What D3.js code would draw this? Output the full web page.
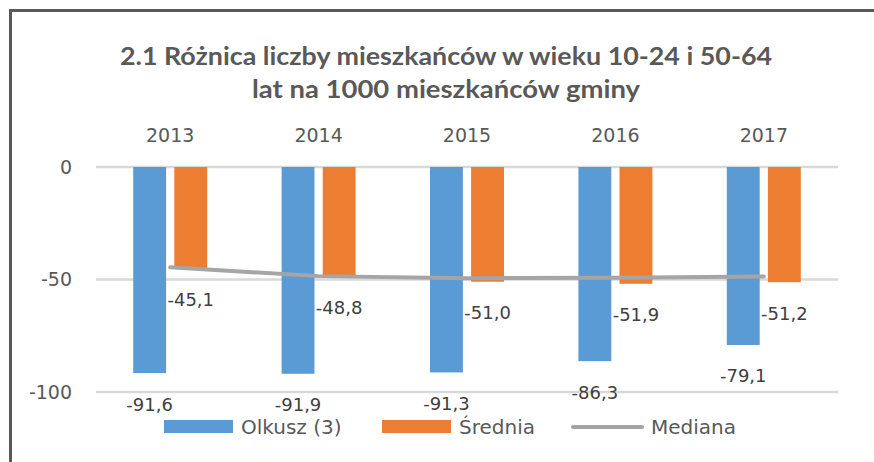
<!DOCTYPE html>
<html>
<head>
<meta charset="utf-8">
<script src="https://cdn.jsdelivr.net/npm/d3@7"></script>
<style>
  body { margin: 0; background: #fff; }
  svg { display: block; }
</style>
</head>
<body>
<div id="chart"></div>
<script>
// values
var years = ["2013", "2014", "2015", "2016", "2017"];
var olkusz = [-91.6, -91.9, -91.3, -86.3, -79.1];
var srednia = [-45.1, -48.8, -51.0, -51.9, -51.2];
var mediana = [-44.6, -48.5, -49.4, -49.2, -48.7];
var yTicks = [0, -50, -100];
var seriesNames = ["Olkusz (3)", "Średnia", "Mediana"];
var colors = ["#5B9BD5", "#ED7D31", "#A5A5A5"];

var width = 874, height = 462;
var textColor = "#595959";

var svg = d3.select("#chart").append("svg")
    .attr("width", width)
    .attr("height", height);

svg.append("rect")
    .attr("width", width).attr("height", height)
    .attr("fill", "#fff");

// chart frame, runs off the right and bottom edge
svg.append("rect")
    .attr("x", 10.5).attr("y", 10.5)
    .attr("width", width).attr("height", height)
    .attr("fill", "none")
    .attr("stroke", "#595959")
    .attr("stroke-width", 3);

// title
var title = svg.append("g")
    .attr("font-family", "Lato, 'Noto Sans', sans-serif")
    .attr("font-weight", 700)
    .attr("font-size", 24)
    .attr("fill", textColor)
    .attr("text-anchor", "middle");
title.append("text").attr("x", 446).attr("y", 65)
    .attr("textLength", 652).attr("lengthAdjust", "spacingAndGlyphs")
    .text("2.1 Różnica liczby mieszkańców w wieku 10-24 i 50-64");
title.append("text").attr("x", 446).attr("y", 98)
    .attr("textLength", 388).attr("lengthAdjust", "spacingAndGlyphs")
    .text("lat na 1000 mieszkańców gminy");

var plot = { left: 96, right: 838, top: 167, bottom: 392 };

var x0 = d3.scaleBand()
    .domain(years)
    .range([plot.left, plot.right]);

var x1 = d3.scaleBand()
    .domain(seriesNames.slice(0, 2))
    .range([0, 74])
    .paddingInner(0.2);

var groupOffset = (x0.bandwidth() - 74) / 2;

var y = d3.scaleLinear()
    .domain([-100, 0])
    .range([plot.bottom, plot.top]);

// gridlines
svg.append("g").selectAll("line")
    .data(yTicks)
    .enter().append("line")
    .attr("x1", plot.left).attr("x2", plot.right)
    .attr("y1", d => y(d)).attr("y2", d => y(d))
    .attr("stroke", "#D9D9D9")
    .attr("stroke-width", 2.5);

// y axis labels
var yAxis = svg.append("g")
    .attr("transform", "translate(" + plot.left + ",0)")
    .call(d3.axisLeft(y).tickValues(yTicks).tickSize(0).tickPadding(24)
        .tickFormat(d3.format("d")));
yAxis.select(".domain").remove();
yAxis.selectAll("text")
    .attr("font-family", "'DejaVu Sans', sans-serif")
    .attr("font-size", 19)
    .attr("fill", textColor)
    .text(d => d < 0 ? "-" + Math.abs(d) : d);

// year labels on top
var xAxis = svg.append("g")
    .attr("transform", "translate(0," + plot.top + ")")
    .call(d3.axisTop(x0).tickSize(0).tickPadding(25));
xAxis.select(".domain").remove();
xAxis.selectAll("text")
    .attr("font-family", "'DejaVu Sans', sans-serif")
    .attr("font-size", 19)
    .attr("fill", textColor);

var comma = function (v) { return d3.format(".1f")(v).replace(".", ",").replace("−", "-"); };

var barData = [];
years.forEach(function (yr, i) {
    barData.push({ year: yr, key: seriesNames[0], value: olkusz[i], color: colors[0] });
    barData.push({ year: yr, key: seriesNames[1], value: srednia[i], color: colors[1] });
});

svg.append("g").selectAll("rect")
    .data(barData)
    .enter().append("rect")
    .attr("x", d => x0(d.year) + groupOffset + x1(d.key))
    .attr("y", y(0))
    .attr("width", x1.bandwidth())
    .attr("height", d => y(d.value) - y(0))
    .attr("fill", d => d.color);

// median line
var line = d3.line()
    .x((d, i) => x0(years[i]) + x0.bandwidth() / 2)
    .y(d => y(d));

svg.append("path")
    .datum(mediana)
    .attr("d", line)
    .attr("fill", "none")
    .attr("stroke", colors[2])
    .attr("stroke-width", 4)
    .attr("stroke-linecap", "round");

// data labels under the bar ends
svg.append("g").selectAll("text")
    .data(barData)
    .enter().append("text")
    .attr("x", d => x0(d.year) + groupOffset + x1(d.key) + x1.bandwidth() / 2)
    .attr("y", d => y(d.value) + 31)
    .attr("dy", "0.36em")
    .attr("text-anchor", "middle")
    .attr("font-family", "'DejaVu Sans', sans-serif")
    .attr("font-size", 18)
    .attr("fill", "#404040")
    .text(d => comma(d.value));

// legend
var legend = svg.append("g")
    .attr("font-family", "'DejaVu Sans', sans-serif")
    .attr("font-size", 20)
    .attr("fill", textColor);

var legendX = [164, 382, 571];
var legendY = 427;

seriesNames.forEach(function (name, i) {
    var g = legend.append("g").attr("transform", "translate(" + legendX[i] + "," + legendY + ")");
    if (i < 2) {
        g.append("rect")
            .attr("x", 0).attr("y", -7)
            .attr("width", 69).attr("height", 13)
            .attr("fill", colors[i]);
    } else {
        g.append("line")
            .attr("x1", 2).attr("x2", 71)
            .attr("y1", 0).attr("y2", 0)
            .attr("stroke", colors[i])
            .attr("stroke-width", 4)
            .attr("stroke-linecap", "round");
    }
    g.append("text")
        .attr("x", i < 2 ? 77 : 80)
        .attr("dy", "0.36em")
        .text(name);
});
</script>
</body>
</html>
